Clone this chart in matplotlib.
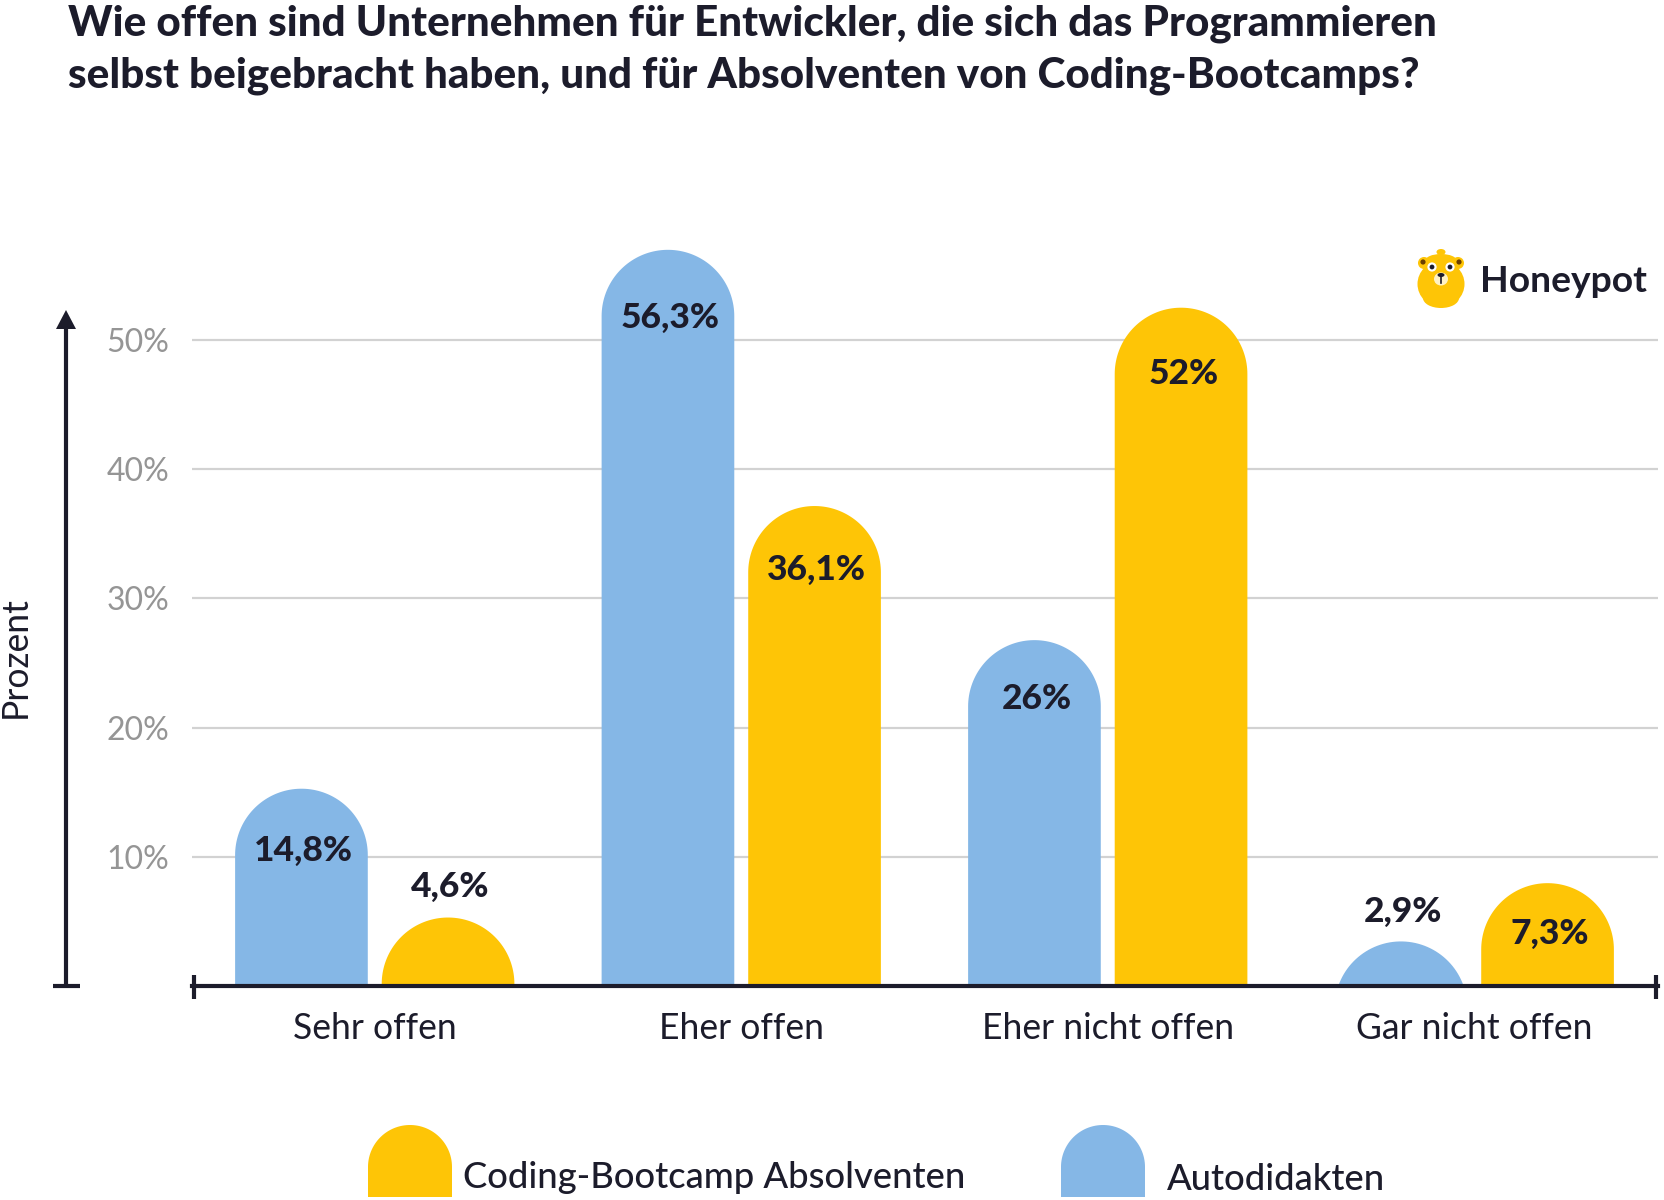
"""Offenheit von Unternehmen: Autodidakten vs. Bootcamp-Absolventen."""
import numpy as np
import matplotlib
matplotlib.use("Agg")
import matplotlib.pyplot as plt
from matplotlib.patches import Circle, Ellipse, Polygon

plt.rcParams['font.family'] = ['Lato', 'DejaVu Sans']

CATEGORIES = ["Sehr offen", "Eher offen", "Eher nicht offen", "Gar nicht offen"]
# drawn heights (the domes poke a bit over the printed value)
AUTODIDAKTEN = [15.27, 56.98, 26.77, 3.45]
BOOTCAMP = [5.3, 37.15, 52.5, 7.96]
LABELS_AUTO = ["14,8%", "56,3%", "26%", "2,9%"]
LABELS_BOOT = ["4,6%", "36,1%", "52%", "7,3%"]
Y_TICKS = [10, 20, 30, 40, 50]
Y_TICK_LABELS = ["10%", "20%", "30%", "40%", "50%"]

TITLE = ("Wie offen sind Unternehmen für Entwickler, die sich das Programmieren",
         "selbst beigebracht haben, und für Absolventen von Coding-Bootcamps?")

BLUE = "#85B7E6"
YELLOW = "#FEC506"
DARK = "#1C1C2B"
GRID = "#D2D2D2"
GREY = "#959595"

W, H = 1664, 1200
AX_L, AX_R, AX_B, AX_T = 191.5, 1657.5, 986, 186
PX_PER_PCT = 12.92
BAR_W = 0.362
OFFSET = 0.2


def dome(ax, x, h, rx, ry, color, z=3):
    # flat bottom, semicircle on top; short bars only get a slice of the circle
    if h >= ry:
        t = np.linspace(np.pi, 0, 80)
        xs = np.r_[x - rx, x + rx * np.cos(t), x + rx]
        ys = np.r_[0, h - ry + ry * np.sin(t), 0]
    else:
        t0 = np.arcsin((ry - h) / ry)
        t = np.linspace(np.pi + t0, -t0, 80)
        xs = x + rx * np.cos(t)
        ys = h - ry + ry * np.sin(t)
    ax.add_patch(Polygon(np.c_[xs, ys], closed=True, fc=color, ec="none", zorder=z))


fig = plt.figure(figsize=(W / 100, H / 100), dpi=100, facecolor="white")
ax = fig.add_axes([AX_L / W, 1 - AX_B / H, (AX_R - AX_L) / W, (AX_B - AX_T) / H])
ax.set_xlim(-0.5, 3.5)
ax.set_ylim(0, (AX_B - AX_T) / PX_PER_PCT)
ax.patch.set_alpha(0)

px_x = (AX_R - AX_L) / 4
rx = BAR_W / 2
ry = rx * px_x / PX_PER_PCT

for yv in Y_TICKS:
    ax.axhline(yv, color=GRID, lw=1.6, zorder=1)

# where the value label sits, relative to the dome top
label_auto = [-4.85, -5.3, -4.55, 2.25]
label_boot = [2.4, -4.95, -5.15, -3.95]
for i, cat in enumerate(CATEGORIES):
    for val, lab, col, sign, dy in ((AUTODIDAKTEN[i], LABELS_AUTO[i], BLUE, -1, label_auto[i]),
                                    (BOOTCAMP[i], LABELS_BOOT[i], YELLOW, 1, label_boot[i])):
        xc = i + sign * OFFSET
        dome(ax, xc, val, rx, ry, col)
        ax.text(xc + 0.006, val + dy, lab, ha="center", va="center", fontsize=25.5,
                fontweight="black", color=DARK, zorder=5)

ax.set_xticks(range(4))
ax.set_xticklabels(CATEGORIES, fontsize=25.6, color=DARK)
ax.set_yticks(Y_TICKS)
ax.set_yticklabels(Y_TICK_LABELS, fontsize=23, color=GREY)
ax.tick_params(axis="x", length=0, pad=18.5)
ax.tick_params(axis="y", length=0, pad=16)
for s in ("top", "left", "right"):
    ax.spines[s].set_visible(False)
ax.spines["bottom"].set_color(DARK)
ax.spines["bottom"].set_linewidth(3)
ax.spines["bottom"].set_zorder(6)

# overlay in pixel coordinates for everything that is not data
ov = fig.add_axes([0, 0, 1, 1], zorder=10)
ov.set_xlim(0, W)
ov.set_ylim(H, 0)
ov.axis("off")
ov.patch.set_alpha(0)

for xe in (AX_L + 2, AX_R - 2):
    ov.plot([xe, xe], [975, 999], color=DARK, lw=3, solid_capstyle="butt")

# y axis arrow
ov.plot([66, 66], [986, 325], color=DARK, lw=3, solid_capstyle="butt")
ov.plot([53, 80], [986, 986], color=DARK, lw=3, solid_capstyle="butt")
ov.add_patch(Polygon([[66, 310], [56, 329], [76, 329]], closed=True, fc=DARK, ec="none"))
ov.text(15, 657, "Prozent", rotation=90, ha="center", va="center", fontsize=25.6, color=DARK)

for k, line in enumerate(TITLE):
    ov.text(68, 24 + k * 51.5, line, ha="left", va="center", fontsize=30.4,
            fontweight="black", color=DARK)

# legend
for x0, col, txt, tx, ty in ((368, YELLOW, "Coding-Bootcamp Absolventen", 463, 1177),
                             (1061, BLUE, "Autodidakten", 1167, 1179)):
    r = 42
    t = np.linspace(np.pi, 0, 60)
    xs = np.r_[x0, x0 + r + r * np.cos(t), x0 + 2 * r]
    ys = np.r_[1197, 1167 - r * np.sin(t), 1197]
    ov.add_patch(Polygon(np.c_[xs, ys], closed=True, fc=col, ec="none"))
    ov.text(tx, ty, txt, ha="left", va="center", fontsize=26.2, color=DARK, fontweight="medium")

# logo
bx = 1441
ov.add_patch(Ellipse((bx, 284), 47, 46, fc=YELLOW, ec="none"))
ov.add_patch(Ellipse((bx, 298), 36, 20, fc=YELLOW, ec="none"))
ov.add_patch(Ellipse((bx, 261), 32, 14, fc=YELLOW, ec="none"))
ov.add_patch(Ellipse((bx, 252), 9, 6, fc=YELLOW, ec="none"))
for sx in (-1, 1):
    ov.add_patch(Circle((bx + sx * 17, 263), 6, fc=YELLOW, ec="none"))
    ov.add_patch(Circle((bx + sx * 18, 262), 2.6, fc="#6b3f00", ec="none", zorder=4))
    ov.add_patch(Circle((bx + sx * 9, 267), 4.6, fc="white", ec="none", zorder=4))
    ov.add_patch(Circle((bx + sx * 9, 267), 2.4, fc=DARK, ec="none", zorder=5))
ov.add_patch(Ellipse((bx, 279), 14, 13, fc="#FFF2C4", ec="none", zorder=4))
ov.add_patch(Ellipse((bx, 275), 7, 4, fc=DARK, ec="none", zorder=5))
ov.plot([bx, bx], [275, 283], color=DARK, lw=1.2, zorder=5)
ov.text(1480, 282, "Honeypot", ha="left", va="center", fontsize=26.8, fontweight="bold", color=DARK)

fig.savefig("out.png", dpi=100)
plt.close(fig)
